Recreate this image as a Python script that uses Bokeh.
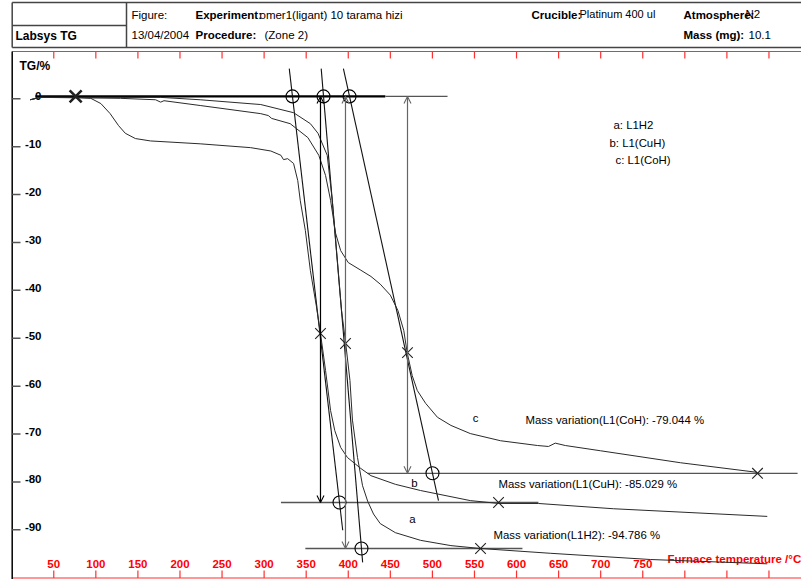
from bokeh.plotting import figure
from bokeh.models import Range1d, Arrow, OpenHead
from bokeh.embed import file_html
from bokeh.resources import INLINE
from bokeh.core.properties import value

# ---------------- data (temperature in °C, TG in %) ----------------
temp_a = [22, 34, 129, 177, 224, 296, 335, 355, 364, 375, 381, 387, 392, 397, 402, 405,
          411, 417, 423, 430, 438, 456, 486, 522, 557, 640, 759, 898]
tg_a = [-0.2, 0.3, 0.3, 0.3, -0.2, -1.2, -2.9, -5.2, -7.2, -11.8, -21.2, -33.8, -44.2, -51.1,
        -58.8, -67.1, -74.9, -80.8, -84.0, -86.7, -88.7, -90.6, -92.2, -93.3, -93.9, -94.9,
        -96.2, -97.1]

temp_b = [22, 34, 76, 94, 106, 117, 127, 135, 147, 165, 224, 284, 308, 320, 323, 328, 335,
          340, 343, 349, 355, 362, 367, 373, 379, 384, 391, 399, 415, 427, 456, 486, 545,
          579, 626, 715, 898]
tg_b = [-0.2, 0.3, 0.3, 0.1, -1.0, -3.1, -5.6, -7.2, -8.3, -8.8, -9.4, -10.2, -10.9, -11.8,
        -12.7, -12.5, -13.5, -17.1, -21.3, -27.5, -35.9, -43.2, -49.0, -56.7, -65.1, -69.3,
        -72.8, -74.9, -77.2, -78.7, -80.5, -81.8, -83.9, -84.5, -84.5, -85.6, -87.2]

temp_c = [22, 34, 129, 171, 177, 181, 224, 296, 305, 309, 331, 352, 365, 373, 379, 385, 391,
          400, 415, 427, 438, 450, 459, 466, 470, 476, 482, 492, 506, 522, 545, 581, 625,
          638, 646, 658, 700, 795, 886]
tg_c = [-0.2, 0.3, 0.1, -0.2, -0.7, -0.4, -1.4, -3.1, -3.5, -4.1, -5.2, -8.1, -11.8, -16.0,
        -21.2, -28.1, -31.7, -34.2, -35.8, -37.1, -38.7, -41.0, -44.2, -48.4, -53.0, -57.8,
        -60.9, -63.6, -66.5, -68.2, -69.9, -71.4, -72.4, -72.6, -71.9, -72.4, -73.5, -76.0,
        -78.0]

series = ["a", "b", "c"]
series_names = ["L1H2", "L1(CuH)", "L1(CoH)"]
mass_variation = [-94.786, -85.029, -79.044]
baseline_tg = 0.5
start_point = (76, 0.5)
onset_temp = [370.6, 333.7, 401.5]
endset_temp = [415.7, 389.6, 500.1]
final_level = [-93.9, -84.3, -78.2]
inflection_temp = [396.7, 367.0, 470.4]
inflection_tg = [-51.1, -49.0, -53.0]
final_temp = [557.2, 578.6, 886.4]
level_from = [349, 320, 423]
level_to = [607, 626, 934]
tangent_top = 6.3
tangent_bottom = [-96.8, -90.1, -83.9]
baseline_thick_to = 444
baseline_thin_to = 518

x_ticks = [50 * i for i in range(1, 19)]
x_tick_labels = [str(v) for v in range(50, 800, 50)]
y_ticks = [0, -10, -20, -30, -40, -50, -60, -70, -80, -90]
y_tick_labels = [str(v) for v in y_ticks]

# ---------------- pixel <-> data helpers (layout only) ----------------
W, H = 801, 579
X0PX, XS = 11.2, 0.8414
Y0PX, YS = 98.3, 4.789


def px2x(px):
    return (px - X0PX) / XS


def py2y(py):
    return (Y0PX - py) / YS


FONT = value("Liberation Sans")

p = figure(width=W, height=H, x_range=Range1d(px2x(0), px2x(W)),
           y_range=Range1d(py2y(H), py2y(0)), output_backend="svg",
           toolbar_location=None, min_border=0, x_axis_type=None, y_axis_type=None,
           outline_line_color=None, background_fill_color="white",
           border_fill_color="white")
p.xgrid.visible = False
p.ygrid.visible = False

# ---------------- header box ----------------
hc = "#444444"
p.segment(x0=[px2x(11.7), px2x(11.7), px2x(11.7), px2x(11.7), px2x(126)],
          y0=[py2y(2), py2y(47), py2y(25), py2y(2), py2y(2)],
          x1=[px2x(801), px2x(801), px2x(126), px2x(11.7), px2x(126)],
          y1=[py2y(2), py2y(47), py2y(25), py2y(47), py2y(47)],
          line_color=hc, line_width=1.5)


def txt(px, py, s, bold=False, size="11px", color="black", align="left", baseline="middle"):
    p.text(x=[px2x(px)], y=[py2y(py)], text=[s], text_font=FONT,
           text_font_style="bold" if bold else "normal", text_font_size=size,
           text_color=color, text_align=align, text_baseline=baseline)


txt(15, 35, "Labsys TG", bold=True, size="12px")
txt(131, 14, "Figure:", size="11.5px")
txt(195, 14, "Experiment:", bold=True, size="11.5px")
txt(259, 14, "omer1(ligant)  10  tarama  hizi", size="11.5px")
txt(131, 34, "13/04/2004", size="11.5px")
txt(195, 34, "Procedure:", bold=True, size="11.5px")
txt(264, 34, "(Zone 2)", size="11.5px")
txt(531, 14, "Crucible:", bold=True, size="11.5px")
txt(579, 13, "Platinum 400 ul", size="11px")
txt(683, 14, "Atmosphere:", bold=True, size="11.5px")
txt(745, 13, "N2", size="11.5px")
txt(683, 34, "Mass (mg):", bold=True, size="11.5px")
txt(748, 34, "10.1", size="11.5px")

# ---------------- axes frame ----------------
red = "#ff3030"
p.segment(x0=[px2x(11.7), px2x(11.7)], y0=[py2y(51), py2y(577.5)],
          x1=[px2x(801), px2x(801)], y1=[py2y(51), py2y(577.5)],
          line_color=red, line_width=1.2)
p.segment(x0=[px2x(11.7)], y0=[py2y(51)], x1=[px2x(11.7)], y1=[py2y(579)],
          line_color="black", line_width=1.5)
p.segment(x0=x_ticks, y0=[py2y(577.5)] * len(x_ticks), x1=x_ticks,
          y1=[py2y(570)] * len(x_ticks), line_color=red, line_width=1.2)
p.segment(x0=x_ticks, y0=[py2y(51)] * len(x_ticks), x1=x_ticks,
          y1=[py2y(58)] * len(x_ticks), line_color=red, line_width=1.2)
p.text(x=x_ticks[:len(x_tick_labels)], y=[py2y(563.5)] * len(x_tick_labels),
       text=x_tick_labels, text_font=FONT, text_font_style="bold", text_font_size="11.5px",
       text_color="#ff0000", text_align="center", text_baseline="alphabetic")
p.segment(x0=[px2x(11.7)] * len(y_ticks), y0=y_ticks, x1=[px2x(20)] * len(y_ticks),
          y1=y_ticks, line_color="#555555", line_width=1.5)
p.text(x=[px2x(41)] * len(y_ticks), y=[v + 2.5 / YS for v in y_ticks], text=y_tick_labels,
       text_font=FONT, text_font_style="bold", text_font_size="11.5px", text_color="black",
       text_align="right", text_baseline="alphabetic")
txt(19, 65, "TG/%", bold=True, size="12px")
txt(667, 558, "Furnace temperature /°C", bold=True, size="11.5px", color="#ff0000")

# ---------------- construction lines ----------------
p.line(x=[px2x(35), baseline_thick_to], y=[baseline_tg, baseline_tg], line_color="black",
       line_width=2.2)
p.line(x=[baseline_thick_to, baseline_thin_to], y=[baseline_tg, baseline_tg],
       line_color="#555555", line_width=1.2)
p.segment(x0=level_from, y0=final_level, x1=level_to, y1=final_level,
          line_color="#555555", line_width=1.3)

tx0, ty0, tx1, ty1 = [], [], [], []
for on, en, lev, bot in zip(onset_temp, endset_temp, final_level, tangent_bottom):
    slope = (lev - baseline_tg) / (en - on)
    tx0.append(on + (tangent_top - baseline_tg) / slope)
    ty0.append(tangent_top)
    tx1.append(on + (bot - baseline_tg) / slope)
    ty1.append(bot)
p.segment(x0=tx0, y0=ty0, x1=tx1, y1=ty1, line_color="#111111", line_width=1.1)

arrow_colors = ["#666666", "black", "#666666"]
for t, lev, col in zip(inflection_temp, final_level, arrow_colors):
    p.add_layout(Arrow(x_start=t, y_start=baseline_tg, x_end=t, y_end=lev,
                       line_color=col, line_width=1.2,
                       start=OpenHead(size=7, line_color=col, line_width=1.1),
                       end=OpenHead(size=7, line_color=col, line_width=1.1)))

# ---------------- TG curves ----------------
for tx, ty in [(temp_a, tg_a), (temp_b, tg_b), (temp_c, tg_c)]:
    p.line(x=tx, y=ty, line_color="#2a2a2a", line_width=1.0)

# ---------------- markers ----------------
p.scatter(x=onset_temp + endset_temp, y=[baseline_tg] * 3 + final_level, marker="circle",
          size=13, fill_color=None, line_color="black", line_width=1.1)
p.scatter(x=inflection_temp + final_temp, y=inflection_tg + final_level, marker="x",
          size=15, line_color="#222222", line_width=1.1)
p.scatter(x=[start_point[0]], y=[start_point[1]], marker="x", size=17, line_color="#222222",
          line_width=2.6)

# ---------------- annotations ----------------
TS = "11.4px"
txt(412, 518, series[0], align="center", size=TS)
txt(414, 482, series[1], align="center", size=TS)
txt(475, 417, series[2], align="center", size=TS)
txt(493, 534, "Mass variation(%s): %.3f %%" % (series_names[0], mass_variation[0]), size=TS)
txt(498, 483, "Mass variation(%s: %.3f %%" % (series_names[1], mass_variation[1]), size=TS)
txt(525, 419, "Mass variation(%s: %.3f %%" % (series_names[2], mass_variation[2]), size=TS)
txt(613, 124, "%s:  %s" % (series[0], series_names[0]), size=TS)
txt(609, 142, "%s:  %s" % (series[1], series_names[1]), size=TS)
txt(615, 159, "%s:  %s" % (series[2], series_names[2]), size=TS)

open("out.html", "w").write(file_html(p, INLINE))
